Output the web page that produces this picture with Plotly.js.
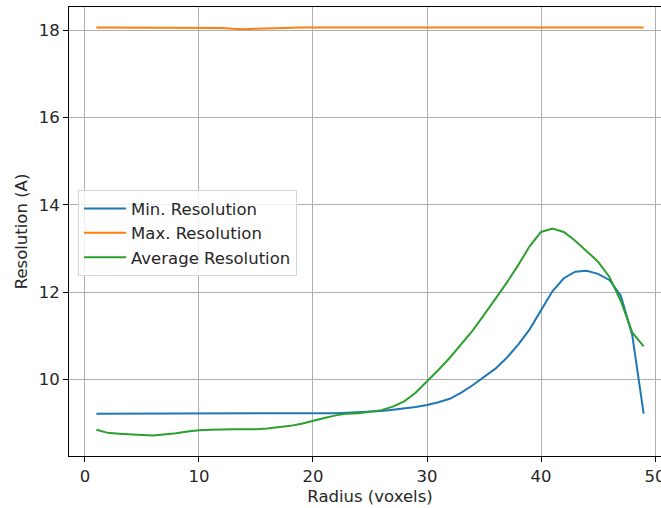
<!DOCTYPE html>
<html>
<head>
<meta charset="utf-8">
<script src="https://cdn.plot.ly/plotly-3.0.1.min.js"></script>
<style>
html, body { margin: 0; padding: 0; overflow: hidden; background: #fff; }
#chart { width: 680px; height: 508px; }
</style>
</head>
<body>
<div id="chart"></div>
<script>
const radius = [1,2,3,4,5,6,7,8,9,10,11,12,13,14,15,16,17,18,19,20,21,22,23,24,25,26,27,28,29,30,31,32,33,34,35,36,37,38,39,40,41,42,43,44,45,46,47,48,49];

const minResolution = [9.22,9.22,9.22,9.22,9.22,9.22,9.22,9.22,9.22,9.22,
  9.22,9.22,9.22,9.22,9.22,9.22,9.22,9.22,9.22,9.22,
  9.23,9.23,9.24,9.25,9.26,9.28,9.31,9.34,9.37,9.42,
  9.48,9.56,9.70,9.87,10.05,10.25,10.50,10.80,11.15,11.58,
  12.02,12.32,12.47,12.49,12.42,12.28,11.92,11.02,9.22];

const maxResolution = [18.06,18.06,18.06,18.06,18.06,18.06,18.06,18.06,18.06,18.06,
  18.06,18.05,18.03,18.02,18.03,18.04,18.05,18.05,18.06,18.06,
  18.06,18.06,18.06,18.06,18.06,18.06,18.06,18.06,18.06,18.06,
  18.06,18.06,18.06,18.06,18.06,18.06,18.06,18.06,18.06,18.06,
  18.06,18.06,18.06,18.06,18.06,18.06,18.06,18.06,18.06];

const avgResolution = [8.85,8.78,8.76,8.74,8.73,8.72,8.74,8.77,8.81,8.84,
  8.85,8.86,8.86,8.86,8.86,8.88,8.91,8.94,8.99,9.06,
  9.12,9.18,9.22,9.23,9.26,9.30,9.38,9.50,9.70,9.95,
  10.22,10.50,10.80,11.12,11.48,11.85,12.22,12.62,13.05,13.38,
  13.46,13.38,13.18,12.94,12.70,12.35,11.80,11.08,10.76];

const seriesNames = ["Min. Resolution", "Max. Resolution", "Average Resolution"];
const xTicks = [0, 10, 20, 30, 40, 50];
const yTicks = [10, 12, 14, 16, 18];

const colors = ["#1f77b4", "#ff7f0e", "#2ca02c"];
const seriesData = [minResolution, maxResolution, avgResolution];

const traces = seriesData.map((ys, i) => ({
  x: radius,
  y: ys,
  type: "scatter",
  mode: "lines",
  name: seriesNames[i],
  legendgroup: "g" + i,
  line: { color: colors[i], width: 2 }
}));

const font = { family: "DejaVu Sans, sans-serif", size: 16.5, color: "#262626" };

const axisCommon = {
  showline: true,
  linecolor: "#000",
  linewidth: 1,
  mirror: true,
  ticks: "outside",
  ticklen: 5,
  tickwidth: 1,
  tickcolor: "#000",
  showgrid: true,
  gridcolor: "#b0b0b0",
  gridwidth: 1,
  zeroline: false,
  tickfont: font
};

const layout = {
  width: 680,
  height: 508,
  margin: { l: 69, r: 9, t: 7, b: 52 },
  paper_bgcolor: "#fff",
  plot_bgcolor: "#fff",
  font: font,
  showlegend: true,
  legend: {
    x: 0.015, y: 0.592, xanchor: "left", yanchor: "top",
    bgcolor: "rgba(255,255,255,0.8)",
    bordercolor: "#d6d6d6",
    borderwidth: 1,
    font: font,
    tracegroupgap: 0,
    traceorder: "grouped",
    itemwidth: 42
  },
  xaxis: Object.assign({}, axisCommon, {
    range: [-1.4, 51.4],
    tickvals: xTicks,
    title: { text: "Radius (voxels)", font: font, standoff: 5 }
  }),
  yaxis: Object.assign({}, axisCommon, {
    range: [8.25, 18.53],
    tickvals: yTicks,
    title: { text: "Resolution (A)", font: font, standoff: 6 }
  })
};

Plotly.newPlot("chart", traces, layout, { staticPlot: true, displayModeBar: false });
</script>
</body>
</html>
